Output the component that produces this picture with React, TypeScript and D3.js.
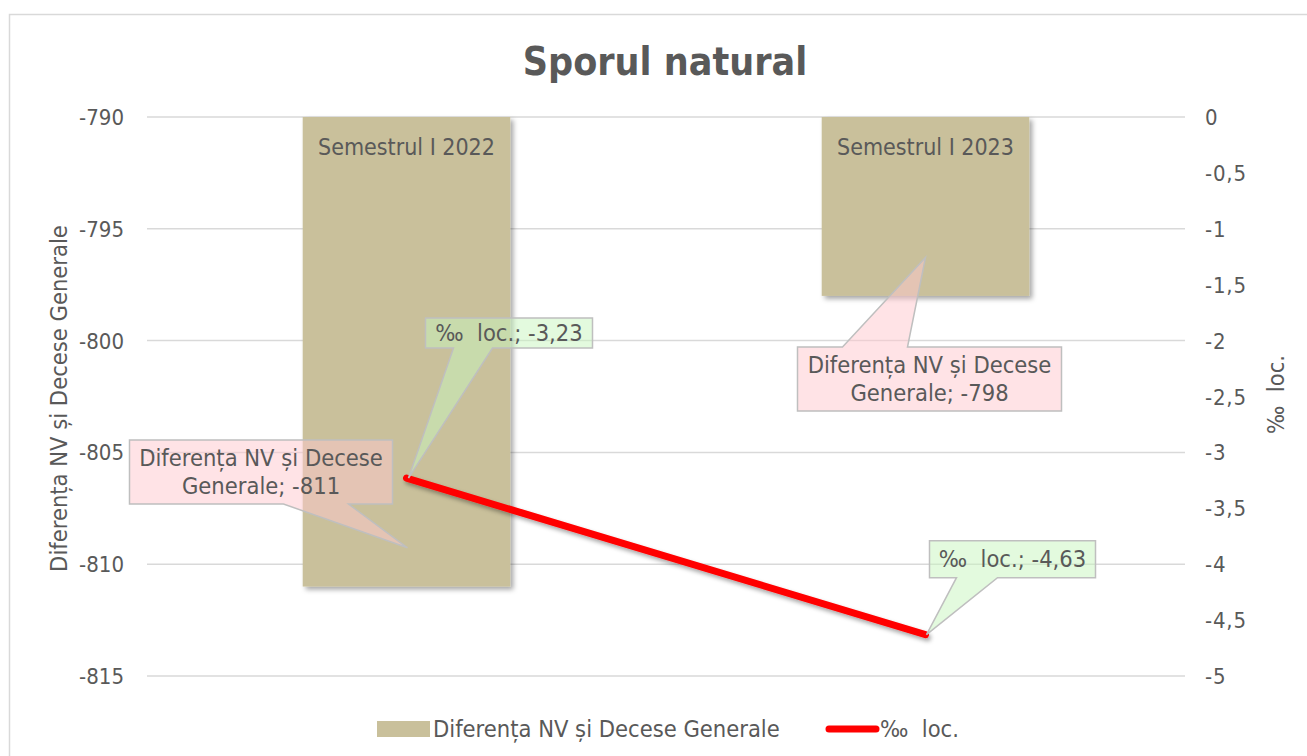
import React from "react";
import * as d3 from "d3";

const categories = ["Semestrul I 2022", "Semestrul I 2023"];
const diffValues = [-811, -798];
const rateValues = [-3.23, -4.63];
const leftTicks = [-790, -795, -800, -805, -810, -815];
const rightTicks = [0, -0.5, -1, -1.5, -2, -2.5, -3, -3.5, -4, -4.5, -5];
const seriesNames = ["Diferența NV și Decese Generale", "‰\u00a0\u00a0loc."];
const title = "Sporul natural";

const FONT = "'DejaVu Sans Condensed', 'DejaVu Sans', sans-serif";
const TXT = "#595959";
const FS = 23.5;

type Callout = {
  tx: number; ty: number;
  x0: number; x1: number; y0: number; y1: number;
  side: "top" | "bottom";
  p0: number; p1: number;
  lines: string[];
  fill: string;
};

function calloutPath(c: Callout) {
  const { x0, x1, y0, y1, p0, p1, tx, ty } = c;
  if (c.side === "bottom") {
    return `M${x0},${y0}H${x1}V${y1}H${p1}L${tx},${ty}L${p0},${y1}H${x0}Z`;
  }
  return `M${x0},${y0}H${p0}L${tx},${ty}L${p1},${y0}H${x1}V${y1}H${x0}Z`;
}

const fmt = (v: number) => String(v).replace(".", ",");

export default function App() {
  const W = 1307, H = 756;
  const plotL = 147, plotR = 1185, plotT = 117, plotB = 676;
  const yL = d3.scaleLinear().domain([-790, -815]).range([plotT, plotB]);
  const yR = d3.scaleLinear().domain([0, -5]).range([plotT, plotB]);
  const x = d3.scaleBand<string>().domain(categories).range([plotL, plotR]).padding(0);
  const bw = x.bandwidth() * 0.4;
  const cx = (c: string) => (x(c) as number) + x.bandwidth() / 2;

  const lineGen = d3.line<number>()
    .x((_, i) => cx(categories[i]))
    .y((d) => yR(d));

  const pink = "rgba(255,200,205,0.5)";
  const green = "rgba(200,245,190,0.5)";

  const c0 = cx(categories[0]);
  const c1 = cx(categories[1]);
  const r0 = yR(rateValues[0]);
  const r1 = yR(rateValues[1]);
  const b0 = yL(diffValues[0]);
  const b1 = yL(diffValues[1]);

  const callouts: Callout[] = [
    {
      tx: c0 + 2, ty: r0, x0: c0 + 19, x1: c0 + 186, y0: r0 - 160, y1: r0 - 130,
      side: "bottom", p0: c0 + 47, p1: c0 + 86,
      lines: [`${seriesNames[1]}; ${fmt(rateValues[0])}`], fill: green,
    },
    {
      tx: c0 + 1, ty: (plotT + b0) / 2 + 196, x0: c0 - 277, x1: c0 - 14, y0: 440, y1: 504,
      side: "bottom", p0: c0 - 123, p1: c0 - 58,
      lines: ["Diferența NV și Decese", `Generale; ${diffValues[0]}`], fill: pink,
    },
    {
      tx: c1, ty: (plotT + b1) / 2 + 51, x0: c1 - 128, x1: c1 + 136, y0: 347, y1: 411,
      side: "top", p0: c1 - 83, p1: c1 - 18,
      lines: ["Diferența NV și Decese", `Generale; ${diffValues[1]}`], fill: pink,
    },
    {
      tx: c1 + 1, ty: r1, x0: c1 + 4, x1: c1 + 170, y0: r1 - 94, y1: r1 - 57,
      side: "bottom", p0: c1 + 31, p1: c1 + 72,
      lines: [`${seriesNames[1]}; ${fmt(rateValues[1])}`], fill: green,
    },
  ];

  return (
    <svg width={W} height={H} style={{ position: "absolute", left: 0, top: 0 }} fontFamily={FONT}>
      <defs>
        <filter id="sh" x="-20%" y="-20%" width="150%" height="150%">
          <feDropShadow dx="3" dy="3" stdDeviation="2.5" floodColor="#000" floodOpacity="0.35" />
        </filter>
        <filter id="shl" x="-10%" y="-50%" width="120%" height="200%">
          <feDropShadow dx="2" dy="3" stdDeviation="2" floodColor="#000" floodOpacity="0.35" />
        </filter>
      </defs>
      <rect x={0} y={0} width={W} height={H} fill="#fff" />
      <rect x={9.5} y={14.5} width={W + 20} height={H + 20} fill="#fff" stroke="#d9d9d9" strokeWidth={1.5} />

      <text x={665} y={75} textAnchor="middle" fontSize={39} fontWeight="bold" fill={TXT}>{title}</text>

      {leftTicks.map((t) => (
        <g key={t}>
          <line x1={plotL} x2={plotR} y1={yL(t)} y2={yL(t)} stroke="#d9d9d9" strokeWidth={1.5} />
          <text x={124} y={yL(t) + 8} textAnchor="end" fontSize={22} fill={TXT}>{t}</text>
        </g>
      ))}
      {rightTicks.map((t) => (
        <text key={t} x={1205} y={yR(t) + 8} textAnchor="start" fontSize={22} letterSpacing={0.8} fill={TXT}>{fmt(t)}</text>
      ))}

      <text transform={`translate(67,${(plotT + plotB) / 2 + 2}) rotate(-90)`} textAnchor="middle" fontSize={FS} fill={TXT}>{seriesNames[0]}</text>
      <text transform={`translate(1284,${(plotT + plotB) / 2 - 2}) rotate(-90)`} textAnchor="middle" fontSize={FS} fill={TXT}>{seriesNames[1]}</text>

      {categories.map((c, i) => (
        <rect key={c} x={cx(c) - bw / 2} y={plotT} width={bw} height={yL(diffValues[i]) - plotT} fill="#c9c09b" filter="url(#sh)" />
      ))}
      {categories.map((c) => (
        <text key={c + "l"} x={cx(c)} y={155} textAnchor="middle" fontSize={23} fill={TXT}>{c}</text>
      ))}

      <path d={lineGen(rateValues) as string} fill="none" stroke="#ff0000" strokeWidth={7} strokeLinecap="round" filter="url(#shl)" />

      {callouts.map((c, i) => (
        <g key={i}>
          <path d={calloutPath(c)} fill={c.fill} stroke="#bfbfbf" strokeWidth={1.5} />
          {c.lines.map((l, j) => (
            <text key={j} x={(c.x0 + c.x1) / 2} y={(c.y0 + c.y1) / 2 + 8 + (j - (c.lines.length - 1) / 2) * 28} textAnchor="middle" fontSize={FS} fill={TXT}>{l}</text>
          ))}
        </g>
      ))}

      <rect x={377} y={721} width={53} height={16} fill="#c9c09b" />
      <text x={433} y={737} fontSize={FS} fill={TXT}>{seriesNames[0]}</text>
      <line x1={829} x2={876} y1={729} y2={729} stroke="#ff0000" strokeWidth={7} strokeLinecap="round" />
      <text x={880} y={737} fontSize={FS} fill={TXT}>{seriesNames[1]}</text>
    </svg>
  );
}
